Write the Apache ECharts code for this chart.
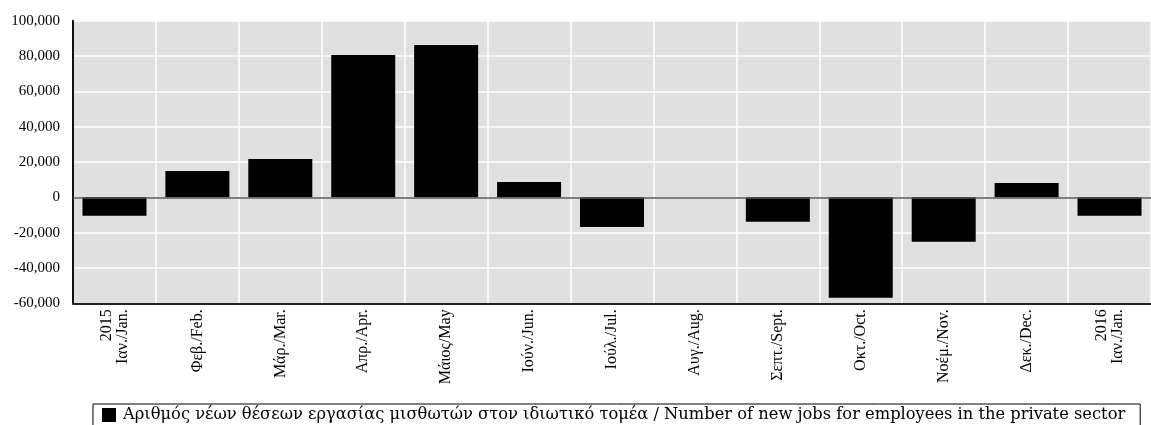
<!DOCTYPE html>
<html>
<head>
<meta charset="utf-8">
<script src="https://cdn.jsdelivr.net/npm/echarts@6/dist/echarts.min.js"></script>
<style>html,body{margin:0;padding:0;background:#fff;}#c{width:1151px;height:425px;}</style>
</head>
<body>
<div id="c"></div>
<script>
const categories = ["2015\nΙαν./Jan.", "Φεβ./Feb.", "Μάρ./Mar.", "Απρ./Apr.", "Μάιος/May", "Ιούν./Jun.", "Ιούλ./Jul.", "Αυγ./Aug.", "Σεπτ./Sept.", "Οκτ./Oct.", "Νοέμ./Nov.", "Δεκ./Dec.", "2016\nΙαν./Jan."];
const newJobs = [-10400, 14900, 21700, 80600, 86200, 8700, -16800, 0, -13800, -56800, -25100, 8100, -10400];
const seriesName = "Αριθμός νέων θέσεων εργασίας μισθωτών στον ιδιωτικό τομέα / Number of new jobs for employees in the private sector";
const yMin = -60000, yMax = 100000, yStep = 20000;

const FONT = "'Liberation Serif', 'DejaVu Serif', serif";
const chart = echarts.init(document.getElementById('c'), null, {renderer: 'canvas'});
chart.setOption({
  animation: false,
  backgroundColor: '#ffffff',
  textStyle: {fontFamily: FONT},
  grid: {left: 73, right: -5, top: 20.7, bottom: 121.7, show: true, backgroundColor: '#e0e0e0', borderWidth: 0},
  legend: {
    left: 93, top: 404,
    data: [seriesName],
    itemWidth: 14, itemHeight: 14,
    itemGap: 8,
    padding: [3, 15, 8, 9],
    borderColor: '#000', borderWidth: 1,
    icon: 'rect',
    textStyle: {fontFamily: "'DejaVu Serif', serif", fontSize: 16.3, color: '#000', padding: [0, 0, 0, 2]}
  },
  xAxis: {
    type: 'category',
    data: categories,
    axisLine: {onZero: false, lineStyle: {color: '#222', width: 2}},
    axisTick: {show: false},
    splitLine: {show: true, lineStyle: {color: '#ffffff', width: 1.5}},
    axisLabel: {rotate: 90, interval: 0, margin: 6, fontFamily: FONT, fontSize: 16, color: '#000', lineHeight: 16}
  },
  yAxis: {
    type: 'value',
    min: yMin, max: yMax, interval: yStep,
    axisLine: {show: true, lineStyle: {color: '#111', width: 2}},
    axisTick: {show: false},
    splitLine: {show: true, lineStyle: {color: '#ffffff', width: 1.5}},
    axisLabel: {margin: 13, fontFamily: FONT, fontSize: 15, color: '#000'}
  },
  series: [{
    name: seriesName,
    type: 'bar',
    data: newJobs,
    barWidth: 64,
    itemStyle: {color: '#000'},
    markLine: {
      silent: true, symbol: 'none', label: {show: false},
      lineStyle: {color: '#555', width: 1.5, type: 'solid'},
      data: [{yAxis: 0}]
    }
  }]
});
</script>
</body>
</html>
